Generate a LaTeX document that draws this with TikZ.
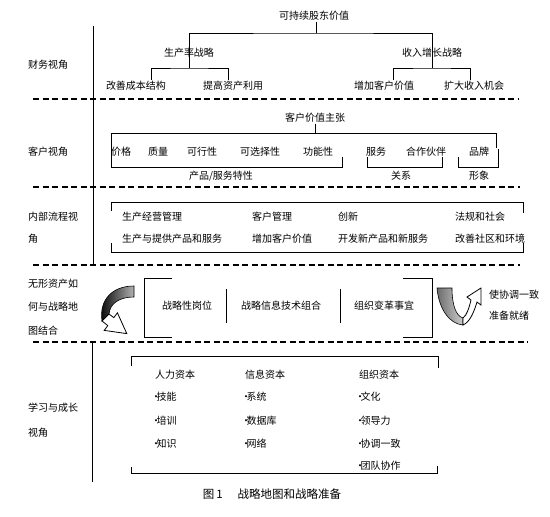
\documentclass[tikz,border=0pt]{standalone}
\usepackage{fontspec}
\setmainfont{Noto Sans CJK SC}

\newcommand\bul{·\hspace{-4.5pt}}

\tikzset{
  txt/.style={font=\fontsize{10}{12}\selectfont, inner sep=1pt},
  side/.style={txt, anchor=west, align=left},
  tree/.style={line width=0.9pt},
  brk/.style={line width=0.9pt},
  sepline/.style={line width=1.6pt, dash pattern=on 6pt off 3.5pt},
}

\begin{document}
\begin{tikzpicture}[x=1pt, y=-1pt]
        \useasboundingbox (0,0) rectangle (550,517);

        % Perspectives on the left
        \node[side] (fin) at (27,65) {财务视角};
        \node[side] (cus) at (27,152) {客户视角};
        \node[side] (proc) at (27,228) {内部流程视\\[10pt]角};
        \node[side] (intan) at (27,307) {无形资产如\\[11.5pt]何与战略地\\[11.5pt]图结合};
        \node[side] (learn) at (27,420) {学习与成长\\[13pt]视角};

        \draw[line width=1pt] (93,26) -- (93,265);
        \draw[line width=1pt] (92,342) -- (92,482);
        \foreach \y/\e in {99/519, 187/520, 265/520, 342/528}
          \draw[sepline] (33,\y) -- (\e,\y);

        % Financial
        \node[txt] (share) at (314,16) {可持续股东价值};
        \node[txt] (prod) at (189,53) {生产率战略};
        \node[txt] (grow) at (432,53) {收入增长战略};
        \node[txt] (cost) at (136,86) {改善成本结构};
        \node[txt] (asset) at (233,86) {提高资产利用};
        \node[txt] (cval) at (384,86) {增加客户价值};
        \node[txt] (opp) at (474,86) {扩大收入机会};
        \coordinate (top) at (316,33);
        \coordinate (pj) at (189,68);
        \coordinate (gj) at (432,68);
        \draw[tree] (share.south -| top) -- (top);
        \draw[tree] (pj) |- (top) -| (gj);
        \draw[tree] (cost.north -| 151,0) |- (pj) -| (asset.north -| 228,0);
        \draw[tree] (cval.north -| 393,0) |- (gj) -| (opp.north -| 470,0);

        % Customer
        \node[txt] (cvp) at (315,118) {客户价值主张};
        \foreach \x/\t [count=\i] in {121/价格, 158/质量, 202/可行性, 260/可选择性, 318/功能性, 376/服务, 426/合作伙伴, 479/品牌}
          \node[txt] (attr\i) at (\x,152) {\t};
        \node[txt] (grpa) at (221,176) {产品/服务特性};
        \node[txt] (grpb) at (401,176) {关系};
        \node[txt] (grpc) at (479,176) {形象};
        \draw[tree] (cvp.south) -- (cvp.south |- 0,133);
        \draw[brk] (111,167) -- (111,133) -- (496,133) -- (496,148);
        \draw[brk] (111,167) -- (342,167) -- (342,157);
        \draw[brk] (367,157) -- (367,167) -- (442,167) -- (442,157);
        \draw[brk] (458,157) -- (458,167) -- (498,167) -- (498,149);

        % Internal process
        \draw[brk] (111,211) -- (111,202) -- (523,202) -- (523,213);
        \draw[brk] (111,243) -- (111,252) -- (523,252) -- (523,243);
        \foreach \x/\a/\b [count=\i] in {121/生产经营管理/生产与提供产品和服务, 251/客户管理/增加客户价值, 337/创新/开发新产品和新服务, 454/法规和社会/改善社区和环境} {
          \node[txt, anchor=west] (ph\i) at (\x,217) {\a};
          \node[txt, anchor=west] (pl\i) at (\x,239) {\b};
        }

        % Intangible assets
        \draw[brk] (172,278) -- (144,278) -- (144,337) -- (172,337);
        \draw[brk] (403,278) -- (432,278) -- (432,337) -- (403,337);
        \node[txt] (job) at (187,306) {战略性岗位};
        \node[txt] (itp) at (281,306) {战略信息技术组合};
        \node[txt] (chg) at (384,306) {组织变革事宜};
        \draw[brk] (226,289) -- (226,323);
        \draw[brk] (340,289) -- (340,323);
        \node[side] (ready) at (488,305) {使协调一致\\[9pt]准备就绪};

        % curved arrows
        \shade[left color=black, right color=gray!60, draw=black, line width=0.6pt]
          (134,286) .. controls (112,286) and (99,300) .. (102,321)
          -- (109,314) .. controls (110,303) and (120,297) .. (134,297) -- cycle;
        \draw[fill=white, line width=0.8pt] (109,314) -- (113.8,317.6) -- (117.4,312.8)
          -- (126.8,333.6) -- (104.2,330.4) -- (107.8,325.6) -- (102,321) -- cycle;
        \shade[left color=gray!85!black, right color=gray!40, draw=black, line width=0.6pt]
          (437,288) .. controls (439,310) and (450,324) .. (463,325)
          -- (463,318) .. controls (456,316) and (452,305) .. (452,288) -- cycle;
        \draw[fill=white, line width=0.8pt] (463,325) .. controls (470,322) and (474,312) .. (477,302)
          -- (481,305) -- (481,288) -- (467,297) -- (471,300)
          .. controls (469,308) and (467,315) .. (463,318) -- cycle;

        % Learning and growth
        \draw[brk] (131,366) -- (131,356) -- (438,356) -- (438,368);
        \draw[brk] (131,467) -- (131,473) -- (437,473) -- (437,466);
        \foreach \x/\h/\a/\b/\c [count=\i] in {154/人力资本/技能/培训/知识, 244/信息资本/系统/数据库/网络, 358/组织资本/文化/领导力/协调一致} {
          \node[txt, anchor=west] (cap\i) at (\x,375) {\h};
          \node[txt, anchor=west] (ca\i) at (\x-4,397) {\bul\a};
          \node[txt, anchor=west] (cb\i) at (\x-4,421) {\bul\b};
          \node[txt, anchor=west] (cc\i) at (\x-4,444) {\bul\c};
        }
        \node[txt, anchor=west] (team) at (354,466) {\bul 团队协作};

        \node[font=\fontsize{11.5}{13}\selectfont] (caption) at (272,494) {图\,1\hspace{15pt}战略地图和战略准备};
      \end{tikzpicture}
\end{document}
